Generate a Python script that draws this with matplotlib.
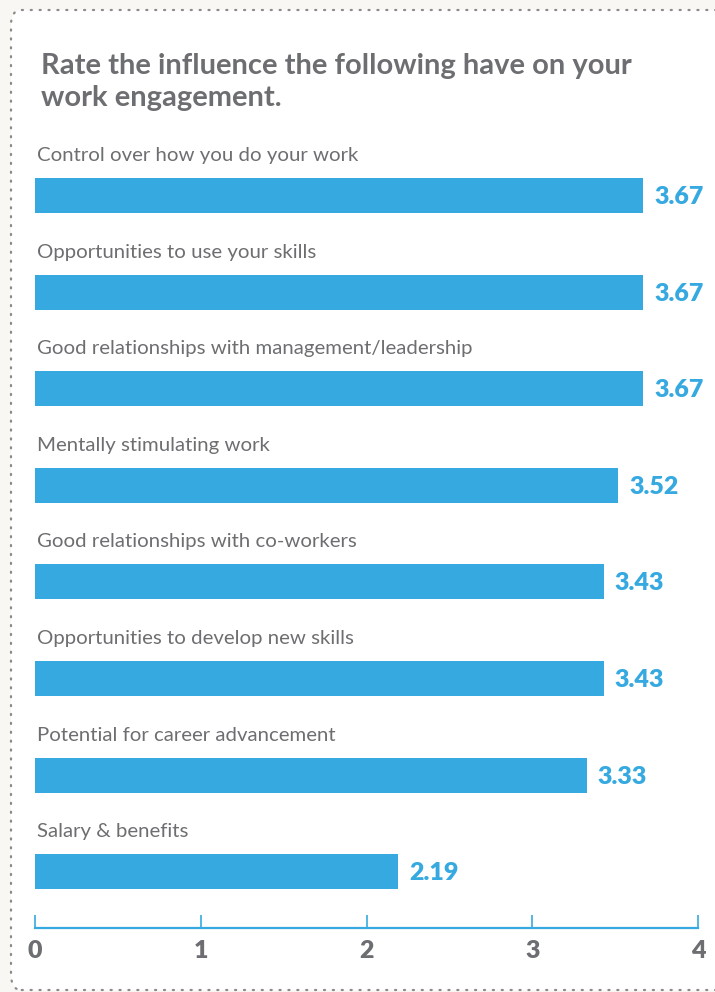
import matplotlib
matplotlib.use("Agg")
import matplotlib.pyplot as plt
from matplotlib.patches import FancyBboxPatch

# survey scores, top to bottom
factors = [
    "Control over how you do your work",
    "Opportunities to use your skills",
    "Good relationships with management/leadership",
    "Mentally stimulating work",
    "Good relationships with co-workers",
    "Opportunities to develop new skills",
    "Potential for career advancement",
    "Salary & benefits",
]
scores = [3.67, 3.67, 3.67, 3.52, 3.43, 3.43, 3.33, 2.19]
ticks = [0, 1, 2, 3, 4]
title = "Rate the influence the following have on your\nwork engagement."

BLUE = "#36a9e0"
GREY = "#6d6e71"
FONT = "Lato"

W, H = 715, 992
fig = plt.figure(figsize=(W / 100, H / 100), dpi=100)
fig.patch.set_facecolor("#f9f7f3")

# dotted frame around the panel
frame = FancyBboxPatch((11 / W, 2 / H), (W + 20) / W, (H - 12) / H,
                       boxstyle="round,pad=0,rounding_size=0.015",
                       transform=fig.transFigure, facecolor="white",
                       edgecolor="#8a8a8a", linestyle=(0, (0.5, 3.5)),
                       linewidth=1.6, capstyle="round", clip_on=False,
                       zorder=-5)
fig.patches.append(frame)

fig.text(41 / W, 1 - 82 / H, title, fontsize=21, fontweight="bold",
         color=GREY, family=FONT, va="center", linespacing=1.3)

# axes area in pixels: x 35..698, bottom spine at y=928
x0_px, x1_px = 35, 698
px_per_unit = (x1_px - x0_px) / 4
step = 96.6
first = 195.5
top_px, bot_px = 130, 928
ax = fig.add_axes([x0_px / W, 1 - bot_px / H, (x1_px - x0_px) / W,
                   (bot_px - top_px) / H])
ax.set_facecolor("none")
ypos = list(range(len(scores)))
ax.barh(ypos, scores, height=35 / step, color=BLUE)
ax.set_xlim(0, 4)
ax.set_ylim((bot_px - first) / step, (top_px - first) / step)

for i, (name, val) in enumerate(zip(factors, scores)):
    ax.text(0.01, i - 40 / step, name, fontsize=14.7, color=GREY,
            family=FONT, va="center", ha="left")
    ax.text(val + 11 / px_per_unit, i + 1.5 / step, f"{val:.2f}",
            fontsize=18, fontweight="heavy", color=BLUE, family=FONT,
            va="center")

for s in ["top", "right", "left"]:
    ax.spines[s].set_visible(False)
ax.spines["bottom"].set_color(BLUE)
ax.spines["bottom"].set_linewidth(1.6)
ax.set_yticks([])
ax.set_xticks(ticks)
ax.set_xticklabels([str(t) for t in ticks], fontweight="heavy",
                   family=FONT, fontsize=18, color=GREY)
ax.tick_params(axis="x", direction="in", length=9.5, width=1.2, color=BLUE,
               pad=9)

fig.savefig("out.png", dpi=100)
